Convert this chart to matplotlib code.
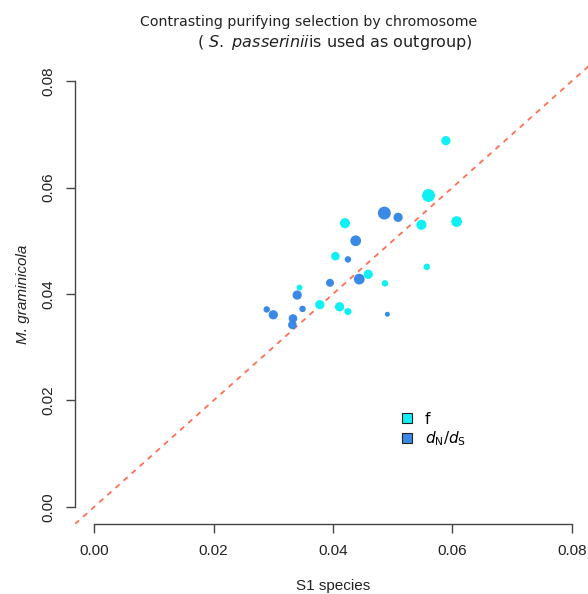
import matplotlib
matplotlib.use("Agg")
import matplotlib.pyplot as plt
from matplotlib.lines import Line2D

# per-chromosome estimates (S1 species vs M. graminicola)
f_x = [0.0589, 0.0560, 0.0607, 0.0548, 0.0420, 0.0404, 0.0557,
       0.0459, 0.0487, 0.0344, 0.0378, 0.0411, 0.0425]
f_y = [0.0688, 0.0585, 0.0536, 0.0530, 0.0533, 0.0471, 0.0451,
       0.0437, 0.0420, 0.0412, 0.0380, 0.0376, 0.0367]
f_w = [4.3, 6.0, 5.0, 4.7, 4.7, 4.0, 3.0, 4.3, 3.0, 2.7, 4.3, 4.3, 3.3]

dnds_x = [0.0486, 0.0509, 0.0438, 0.0425, 0.0444, 0.0395, 0.0340,
          0.0289, 0.0300, 0.0349, 0.0333, 0.0332, 0.0491]
dnds_y = [0.0552, 0.0544, 0.0500, 0.0465, 0.0428, 0.0421, 0.0398,
          0.0371, 0.0361, 0.0372, 0.0354, 0.0342, 0.0362]
dnds_w = [6.0, 4.3, 5.0, 3.0, 5.0, 3.7, 4.3, 3.0, 4.3, 3.0, 4.0, 4.0, 2.3]

ticks = [0.00, 0.02, 0.04, 0.06, 0.08]
tick_labels = ["0.00", "0.02", "0.04", "0.06", "0.08"]

col_f = "#0FF0F5"
col_d = "#3A89E6"


def msize(w):
    # weight -> scatter area (pt^2)
    return [(1.55 * v) ** 2 for v in w]


fig = plt.figure(figsize=(5.88, 5.94), dpi=100)
ax = fig.add_axes([75 / 588, 70 / 594, 516 / 588, 460 / 594])

ax.axline((0, 0), slope=1, color="#FF6F55", lw=1.3, ls=(0, (3, 3)), zorder=1)
ax.scatter(f_x, f_y, s=msize(f_w), color=col_f, linewidths=0, zorder=2)
ax.scatter(dnds_x, dnds_y, s=msize(dnds_w), color=col_d, linewidths=0, zorder=3)

ax.set_xlim(-0.0032, 0.0832)
ax.set_ylim(-0.0032, 0.0832)

for s in ["top", "right"]:
    ax.spines[s].set_visible(False)
ax.spines["bottom"].set_bounds(0, 0.08)
ax.spines["left"].set_bounds(0, 0.08)
for s in ["bottom", "left"]:
    ax.spines[s].set_color("#444444")
    ax.spines[s].set_linewidth(1.0)

ax.set_xticks(ticks)
ax.set_xticklabels(tick_labels, family="Liberation Sans", fontsize=11, color="#222222")
ax.set_yticks(ticks)
ax.set_yticklabels(tick_labels, family="Liberation Sans", fontsize=11, color="#222222",
                   rotation=90, va="center")
ax.tick_params(axis="both", length=6.3, width=1.0, color="#444444", pad=8)

ax.set_xlabel("S1 species", family="Liberation Sans", fontsize=11, color="#222222", labelpad=15)
ax.set_ylabel("M. graminicola", family="Liberation Sans", fontsize=11, style="italic",
              color="#222222", labelpad=8)

fig.text(309 / 588, 1 - 22 / 594, "Contrasting purifying selection by chromosome",
         ha="center", va="center", fontsize=10.2, color="#222222")
fig.text(335 / 588, 1 - 43 / 594, r"( $\it{S.}$ $\it{passerinii}$is used as outgroup)",
         ha="center", va="center", fontsize=11.5, color="#222222")

handles = [
    Line2D([], [], ls="none", marker="s", markersize=7.5, markerfacecolor=col_f,
           markeredgecolor="#222222", markeredgewidth=0.8),
    Line2D([], [], ls="none", marker="s", markersize=7.5, markerfacecolor=col_d,
           markeredgecolor="#222222", markeredgewidth=0.8),
]
ax.legend(handles, ["f", r"$d_\mathrm{N}/d_\mathrm{S}$"], loc="upper left",
          bbox_to_anchor=(393 / 588, 1 - 404 / 594), bbox_transform=fig.transFigure,
          frameon=False, fontsize=11, handlelength=0.8, handletextpad=0.8,
          labelspacing=0.15, borderpad=0)

fig.savefig("out.png", dpi=100)
